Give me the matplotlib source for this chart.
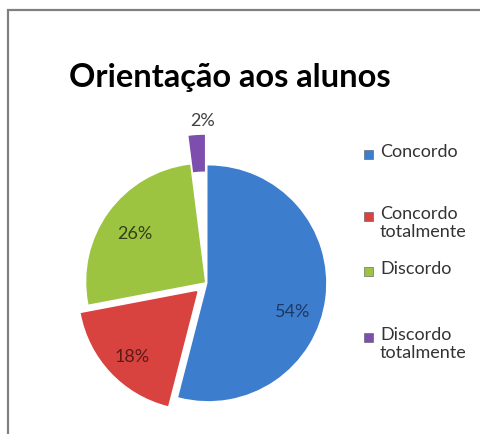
import matplotlib.pyplot as plt
from matplotlib.patches import Rectangle

# data
categories = ['Concordo', 'Concordo\ntotalmente', 'Discordo', 'Discordo\ntotalmente']
values = [54, 18, 26, 2]
colors = ['#3D7DCE', '#D8433F', '#9CC441', '#7E4EAE']
label_colors = ['#1F3864', '#5C1A18', '#33401A', '#404040']
explode = [0.02, 0.11, 0.02, 0.26]

W, H = 481, 435
fig = plt.figure(figsize=(W / 100, H / 100), dpi=100)
fig.patch.set_facecolor('white')

# chart-area border (right and bottom edges fall outside the image)
fig.add_artist(Rectangle((8 / W, -0.1), 1.2, 1 - 11 / H + 0.1,
                         transform=fig.transFigure, fill=False,
                         edgecolor='#808080', linewidth=1.6))

fig.text(230 / W, 1 - 77 / H, 'Orientação aos alunos', ha='center', va='center',
         fontsize=23.5, fontweight='bold', family='Lato', color='black')

# pie axes: centre (206, 284) px, radius 117 px
R = 117
lim = 1.3
cx, cy = 206, 284
size = 2 * lim * R
ax = fig.add_axes([(cx - size / 2) / W, (H - cy - size / 2) / H, size / W, size / H])
wedges, texts, autotexts = ax.pie(values, explode=explode, colors=colors, startangle=90,
                                  counterclock=False, autopct='%d%%', pctdistance=0.62,
                                  wedgeprops=dict(edgecolor='white', linewidth=1.2),
                                  textprops=dict(fontsize=13, family='Lato'))
for t, c in zip(autotexts, label_colors):
    t.set_color(c)
# label positions as in the original
autotexts[0].set_position((0.74, -0.24))
autotexts[1].set_position((-0.63, -0.62))
autotexts[2].set_position((-0.61, 0.43))
autotexts[3].set_position((-0.03, 1.39))
for w, c in zip(wedges, colors):
    w.set_edgecolor(c)
# only the outer tip of the thin slice shows in the original
wedges[3].set_width(0.3)
ax.set_xlim(-lim, lim)
ax.set_ylim(-lim, lim)
ax.set_aspect('equal')
ax.axis('off')

# legend drawn by hand to match spacing
legend_y = [155, 217, 272, 338]
for lab, col, y in zip(categories, colors, legend_y):
    fig.add_artist(Rectangle((364 / W, 1 - (y + 5) / H), 9 / W, 9 / H,
                             transform=fig.transFigure, facecolor=col,
                             edgecolor='#555555', linewidth=0.4))
    fig.text(380 / W, 1 - (y - 11) / H, lab, ha='left', va='top', fontsize=13,
             family='Lato', color='#333333', linespacing=1.15)

fig.savefig('out.png', dpi=100)
